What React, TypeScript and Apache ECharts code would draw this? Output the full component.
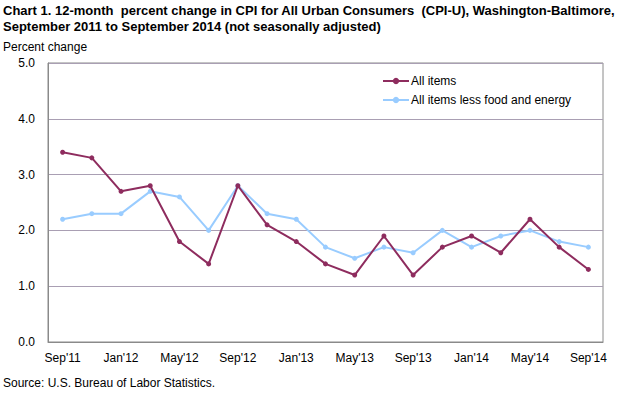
import React, { useEffect, useRef } from "react";
import * as echarts from "echarts";

const categories = [
  "Sep'11", "Nov'11", "Jan'12", "Mar'12", "May'12", "Jul'12", "Sep'12", "Nov'12",
  "Jan'13", "Mar'13", "May'13", "Jul'13", "Sep'13", "Nov'13", "Jan'14", "Mar'14",
  "May'14", "Jul'14", "Sep'14",
];
const allItems = [3.4, 3.3, 2.7, 2.8, 1.8, 1.4, 2.8, 2.1, 1.8, 1.4, 1.2, 1.9, 1.2, 1.7, 1.9, 1.6, 2.2, 1.7, 1.3];
const lessFoodEnergy = [2.2, 2.3, 2.3, 2.7, 2.6, 2.0, 2.8, 2.3, 2.2, 1.7, 1.5, 1.7, 1.6, 2.0, 1.7, 1.9, 2.0, 1.8, 1.7];

const FONT = "'Liberation Sans Narrow', 'Liberation Sans', Arial, sans-serif";
const FONT_REG = "'Liberation Sans', Arial, sans-serif";

export default function App() {
  const ref = useRef<HTMLDivElement>(null);
  useEffect(() => {
    if (!ref.current) return;
    const chart = echarts.init(ref.current, undefined, { renderer: "svg" });
    chart.setOption({
      animation: false,
      backgroundColor: "#ffffff",
      title: {
        text: "Chart 1. 12-month  percent change in CPI for All Urban Consumers  (CPI-U), Washington-Baltimore,\nSeptember 2011 to September 2014 (not seasonally adjusted)",
        left: 3,
        top: 2,
        padding: 0,
        textStyle: { fontFamily: FONT, fontWeight: "bold", fontSize: 13, color: "#000", lineHeight: 16 },
      },
      graphic: [
        { type: "text", left: 3, top: 41, style: { text: "Percent change", font: `12px ${FONT}`, fill: "#000" } },
        { type: "text", left: 3, top: 377, style: { text: "Source: U.S. Bureau of Labor Statistics.", font: `12px ${FONT_REG}`, fill: "#000" } },
      ],
      legend: {
        orient: "vertical",
        left: 377,
        top: 70,
        itemGap: 7,
        itemWidth: 26,
        itemHeight: 8,
        textStyle: { fontFamily: FONT, fontSize: 12, color: "#000", padding: [0, 0, 0, -3] },
        data: ["All items", "All items less food and energy"],
      },
      grid: { left: 48, right: 21, top: 63, bottom: 52, show: true, borderColor: "#8a8a8a", borderWidth: 1 },
      xAxis: {
        type: "category",
        data: categories,
        boundaryGap: true,
        axisLine: { lineStyle: { color: "#8a8a8a" } },
        axisTick: { show: false },
        axisLabel: { interval: 1, color: "#000", fontFamily: FONT_REG, fontSize: 12, margin: 10 },
      },
      yAxis: {
        type: "value",
        min: 0,
        max: 5,
        interval: 1,
        axisLine: { show: true, lineStyle: { color: "#8a8a8a" } },
        axisTick: { show: false },
        axisLabel: { formatter: (v: number) => v.toFixed(1), color: "#000", fontFamily: FONT_REG, fontSize: 12, margin: 13 },
        splitLine: { lineStyle: { color: "#a99fb3", width: 1 } },
      },
      series: [
        {
          name: "All items",
          type: "line",
          data: allItems,
          symbol: "circle",
          symbolSize: 5,
          z: 3,
          lineStyle: { color: "#8e2c5e", width: 2 },
          itemStyle: { color: "#8e2c5e" },
        },
        {
          name: "All items less food and energy",
          type: "line",
          data: lessFoodEnergy,
          symbol: "circle",
          symbolSize: 5,
          z: 2,
          lineStyle: { color: "#99ccff", width: 2 },
          itemStyle: { color: "#99ccff" },
        },
      ],
    });
    return () => chart.dispose();
  }, []);
  return <div ref={ref} style={{ width: 624, height: 394, position: "absolute", left: 0, top: 0 }} />;
}
